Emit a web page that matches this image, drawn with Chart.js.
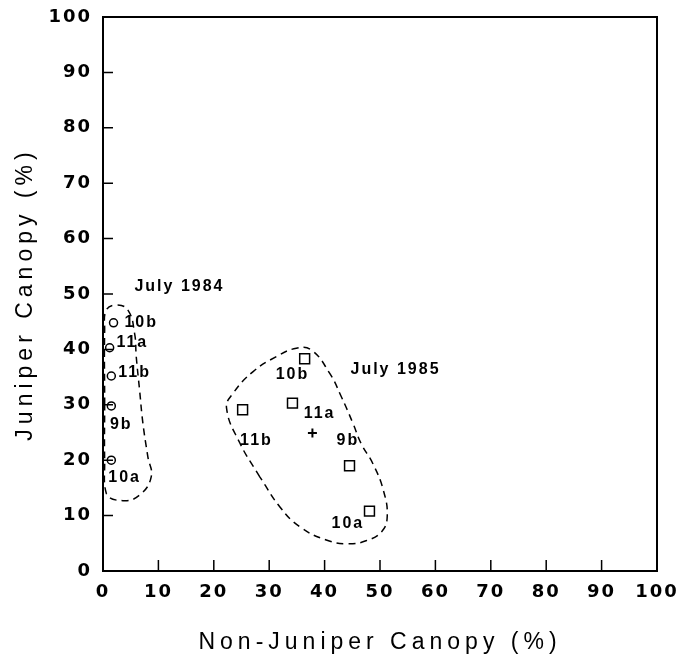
<!DOCTYPE html>
<html>
<head>
<meta charset="utf-8">
<script src="https://cdn.jsdelivr.net/npm/chart.js@4.4.0/dist/chart.umd.min.js"></script>
<style>
  html, body { margin: 0; padding: 0; background: #fff; }
</style>
</head>
<body>
<canvas id="myChart" width="678" height="660"></canvas>
<script>
// plot names (same for both years)
const plots = ["10b", "11a", "11b", "9b", "10a"];

// July 1984 (circles)
const x1984 = [1.9, 1.2, 1.5, 1.5, 1.5];
const y1984 = [44.8, 40.3, 35.2, 29.8, 20.0];
const lab1984X = [6.9, 5.3, 5.7, 3.3, 3.9];
const lab1984Y = [44.8, 41.2, 35.9, 26.4, 16.8];

// July 1985 (squares)
const x1985 = [36.4, 34.2, 25.2, 44.5, 48.1];
const y1985 = [38.3, 30.3, 29.1, 19.0, 10.8];
const lab1985X = [34.2, 39.1, 27.7, 44.2, 44.2];
const lab1985Y = [35.4, 28.5, 23.6, 23.6, 8.6];

// group mean (+)
const meanX = [37.8];
const meanY = [24.9];

// group names
const groupNames = ["July 1984", "July 1985"];
const groupLabelX = [13.8, 52.8];
const groupLabelY = [51.3, 36.3];

// dashed outlines round each group (start and end on a straight stretch)
const loop1984X = [0.3, 0.3, 0.6, 2.4, 4.5, 5.7, 6.0, 6.6, 7.2, 8.1, 8.7, 6.6, 3.6, 0.6, 0.3, 0.3];
const loop1984Y = [30.0, 43.5, 47.1, 48.0, 47.1, 42.9, 38.7, 32.7, 26.7, 20.6, 17.0, 13.7, 12.7, 14.0, 20.0, 30.0];
const loop1985X = [28.3, 24.7, 22.3, 23.5, 27.1, 31.3, 34.9, 37.6, 40.9, 43.0, 45.1, 46.6, 48.7, 50.6, 51.3, 50.3, 47.6, 44.2, 40.3, 35.5, 31.9, 28.3];
const loop1985Y = [17.0, 23.1, 29.4, 32.1, 36.0, 38.7, 40.2, 39.9, 35.7, 31.5, 26.7, 23.0, 19.4, 14.6, 9.8, 7.1, 5.5, 4.9, 5.6, 8.0, 11.6, 17.0];

// axes
const tickValues = [0, 10, 20, 30, 40, 50, 60, 70, 80, 90, 100];
const xTitle = "Non-Juniper Canopy (%)";
const yTitle = "Juniper Canopy (%)";

function pts(xs, ys) {
  return xs.map((v, i) => ({ x: v, y: ys[i] }));
}

// letter spacing for tick labels and axis titles
const spacing = {
  id: 'spacing',
  beforeDraw(chart) {
    Object.values(chart.scales).forEach(s => {
      if (s._spaced) return;
      const lab = s.drawLabels.bind(s);
      const tit = s.drawTitle.bind(s);
      s.drawLabels = function (area) {
        this.ctx.save();
        this.ctx.letterSpacing = '2px';
        lab(area);
        this.ctx.restore();
      };
      s.drawTitle = function () {
        this.ctx.save();
        this.ctx.letterSpacing = '5px';
        tit();
        this.ctx.restore();
      };
      s._spaced = true;
    });
  }
};

// box round the plot and inward ticks
const frame = {
  id: 'frame',
  afterDraw(chart) {
    const { ctx, chartArea: a, scales: { x, y } } = chart;
    ctx.save();
    ctx.strokeStyle = '#000';
    ctx.lineWidth = 2;
    ctx.strokeRect(a.left, a.top, a.right - a.left, a.bottom - a.top);
    ctx.lineWidth = 1.5;
    ctx.beginPath();
    tickValues.slice(1, -1).forEach(v => {
      const px = x.getPixelForValue(v);
      ctx.moveTo(px, a.bottom);
      ctx.lineTo(px, a.bottom - 11);
      const py = y.getPixelForValue(v);
      ctx.moveTo(a.left, py);
      ctx.lineTo(a.left + 10, py);
    });
    ctx.stroke();
    ctx.restore();
  }
};

// point labels and group names
const textLabels = {
  id: 'textLabels',
  afterDatasetsDraw(chart) {
    const { ctx, scales: { x, y } } = chart;
    ctx.save();
    ctx.font = 'bold 16px "Liberation Sans", Arial, sans-serif';
    ctx.letterSpacing = '2px';
    ctx.fillStyle = '#000';
    ctx.textAlign = 'center';
    ctx.textBaseline = 'middle';
    const put = (txt, xs, ys) => txt.forEach((t, i) => {
      ctx.fillText(t, x.getPixelForValue(xs[i]), y.getPixelForValue(ys[i]));
    });
    put(plots, lab1984X, lab1984Y);
    put(plots, lab1985X, lab1985Y);
    put(groupNames, groupLabelX, groupLabelY);
    ctx.restore();
  }
};

const tickFont = { family: '"DejaVu Sans", sans-serif', size: 18, weight: 'bold' };
const titleFont = { family: '"Liberation Sans", Arial, sans-serif', size: 23, weight: 'normal' };

const data = {
  datasets: [
    {
      label: "July 1984",
      data: pts(x1984, y1984),
      pointStyle: 'circle',
      pointRadius: 4,
      borderColor: '#000',
      backgroundColor: '#fff',
      borderWidth: 1.5,
    },
    {
      label: "July 1985",
      data: pts(x1985, y1985),
      pointStyle: 'rect',
      pointRadius: 7,
      borderColor: '#000',
      backgroundColor: '#fff',
      borderWidth: 1.5,
    },
    {
      label: "mean",
      data: pts(meanX, meanY),
      pointStyle: 'cross',
      pointRadius: 4.5,
      borderColor: '#000',
      borderWidth: 2,
    },
    {
      label: "outline 1984",
      data: pts(loop1984X, loop1984Y),
      showLine: true,
      tension: 0.45,
      pointRadius: 0,
      borderColor: '#000',
      borderWidth: 1.5,
      borderDash: [7, 5],
      fill: false,
    },
    {
      label: "outline 1985",
      data: pts(loop1985X, loop1985Y),
      showLine: true,
      tension: 0.45,
      pointRadius: 0,
      borderColor: '#000',
      borderWidth: 1.5,
      borderDash: [7, 5],
      fill: false,
    },
  ],
};

const config = {
  type: 'scatter',
  data: data,
  options: {
    responsive: false,
    animation: false,
    layout: { padding: { top: 17, right: 21, left: 0, bottom: 0 } },
    plugins: { legend: { display: false }, tooltip: { enabled: false } },
    scales: {
      x: {
        type: 'linear',
        min: 0,
        max: 100,
        afterBuildTicks: (s) => { s.ticks = tickValues.map(v => ({ value: v })); },
        afterFit: (s) => { s.height = 89; s.paddingLeft = 0; s.paddingRight = 0; },
        ticks: { color: '#000', font: tickFont, padding: 11, maxRotation: 0 },
        grid: { drawOnChartArea: false, drawTicks: false },
        border: { color: '#000', width: 2 },
        title: { display: true, text: xTitle, color: '#000', font: titleFont, padding: { top: 5 } },
      },
      y: {
        type: 'linear',
        min: 0,
        max: 100,
        afterBuildTicks: (s) => { s.ticks = tickValues.map(v => ({ value: v })); },
        afterFit: (s) => { s.width = 103; s.paddingTop = 0; s.paddingBottom = 0; },
        ticks: { color: '#000', font: tickFont, padding: 11 },
        grid: { drawOnChartArea: false, drawTicks: false },
        border: { color: '#000', width: 2 },
        title: { display: true, text: yTitle, color: '#000', font: titleFont, padding: { top: 12 } },
      },
    },
  },
  plugins: [spacing, frame, textLabels],
};

const myChart = new Chart(document.getElementById("myChart"), config);
</script>
</body>
</html>
